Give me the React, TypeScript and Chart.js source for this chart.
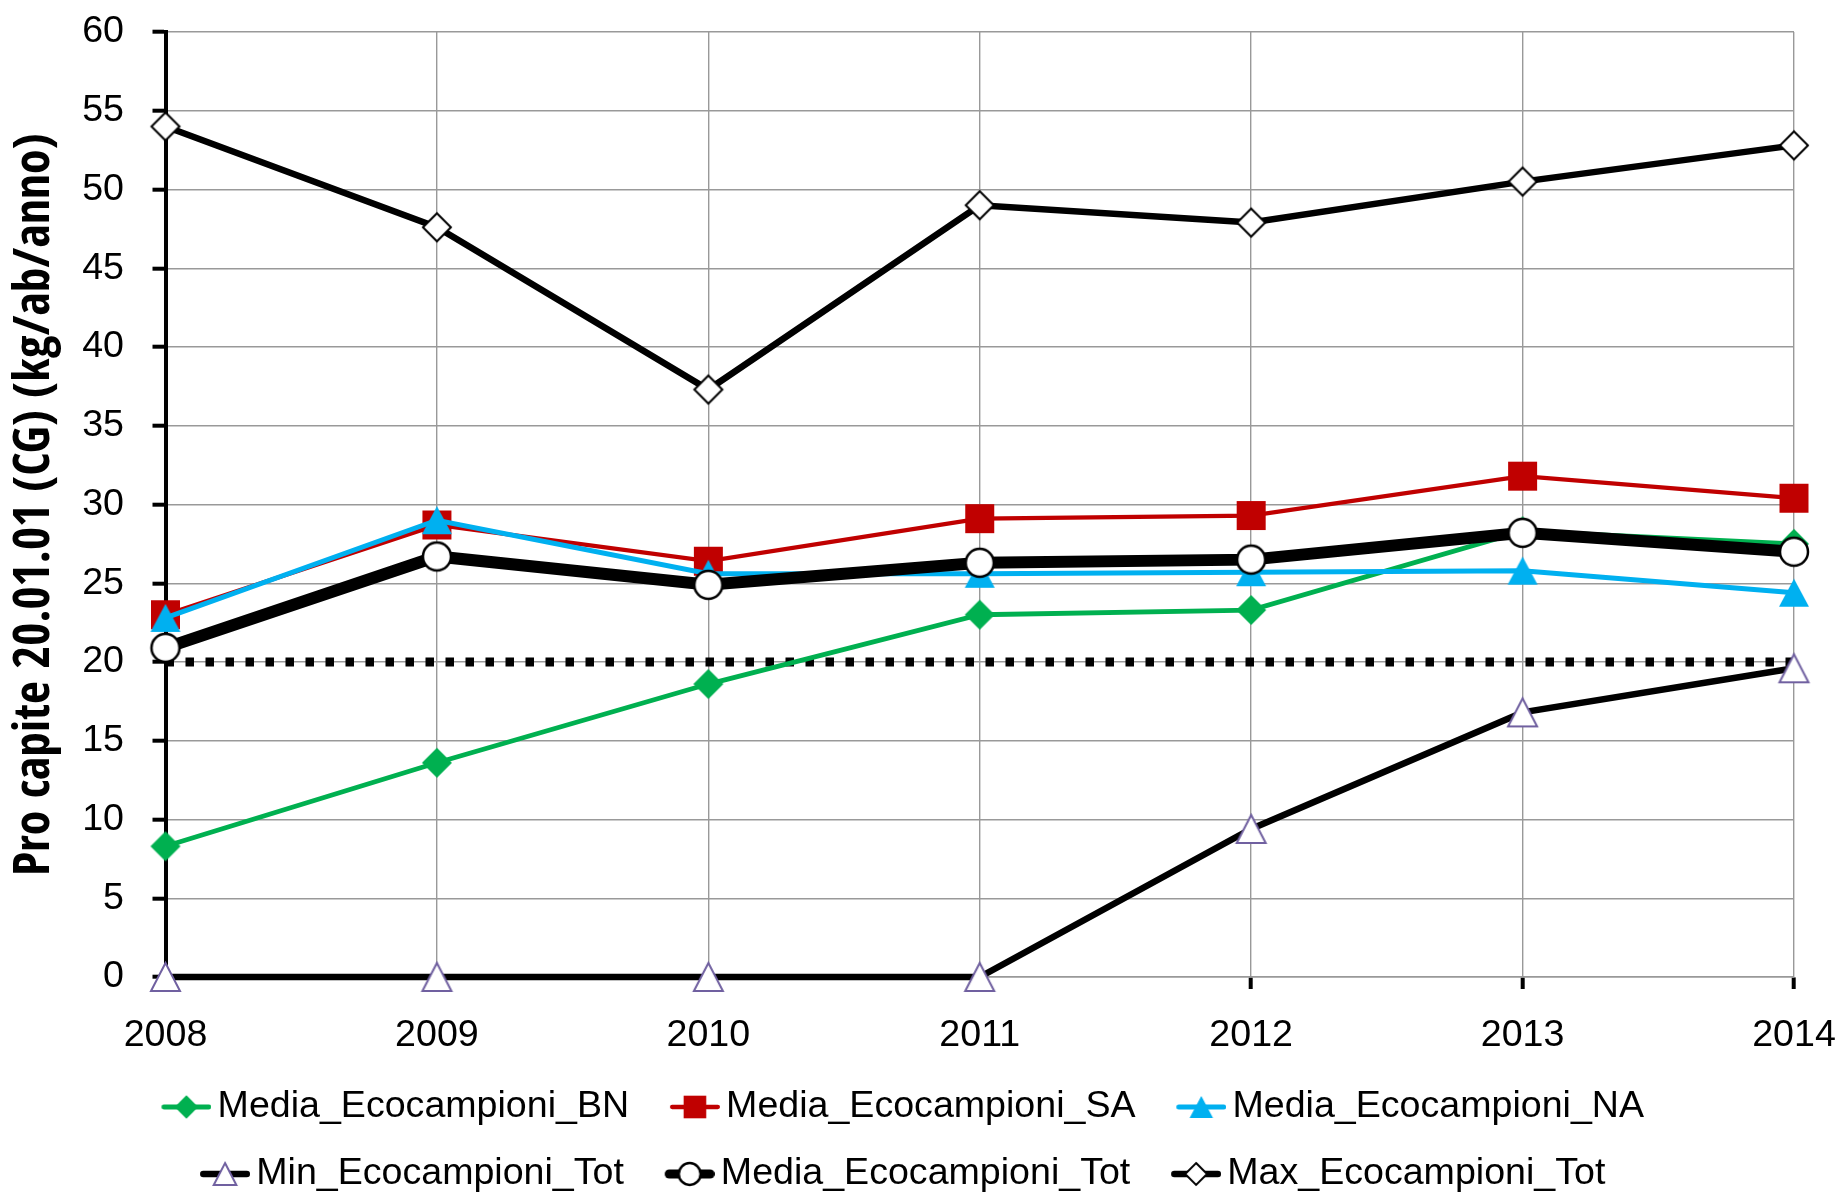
import { useEffect, useRef } from 'react';
import { Chart, registerables } from 'chart.js';

Chart.register(...registerables);

// ---- data ----
const years = ['2008', '2009', '2010', '2011', '2012', '2013', '2014'];
const mediaBN = [8.3, 13.6, 18.6, 23.0, 23.3, 28.3, 27.5];
const mediaSA = [23.0, 28.7, 26.4, 29.1, 29.3, 31.8, 30.4];
const mediaNA = [22.8, 29.0, 25.6, 25.6, 25.7, 25.8, 24.4];
const minTot = [0, 0, 0, 0, 9.4, 16.8, 19.6];
const mediaTot = [20.9, 26.7, 24.9, 26.3, 26.5, 28.2, 27.0];
const maxTot = [54.0, 47.6, 37.3, 49.0, 47.9, 50.5, 52.8];
const soglia = [20, 20, 20, 20, 20, 20, 20];
const yMin = 0;
const yMax = 60;
const yStep = 5;
const yTitle = 'Pro capite 20.01.01 (CG) (kg/ab/anno)';

const GRID = '#999999';

// ---- font selection: the reference uses a narrow sans face ----
interface FontChoice { family: string; stretch: string }
interface FontPick { reg: FontChoice; bold: FontChoice; size: number; titleSize: number }

function pickFont(): FontPick {
  const ctx = document.createElement('canvas').getContext('2d')!;
  const sample = 'Media_Ecocampioni_BN';
  const measure = (f: string, text = sample) => {
    ctx.font = '10px serif';
    ctx.font = f;
    if (ctx.font === '10px serif') return -1;
    return ctx.measureText(text).width;
  };
  const mono = measure('46px monospace');
  const cands = [
    { stretch: '', family: '"Liberation Sans Narrow"', base: '"Liberation Sans"', reg: true },
    { stretch: '', family: '"Arial Narrow"', base: '"Liberation Sans"', reg: true },
    { stretch: '', family: '"Roboto Condensed"', base: 'Roboto', reg: true },
    { stretch: '', family: '"Noto Sans Condensed"', base: '"Noto Sans"', reg: true },
    { stretch: 'condensed', family: '"Noto Sans"', base: '"Noto Sans"', reg: true },
    { stretch: 'condensed', family: 'Roboto', base: 'Roboto', reg: true },
    { stretch: '', family: '"Open Sans Condensed"', base: '"Open Sans"', reg: false },
    { stretch: 'condensed', family: '"Open Sans"', base: '"Open Sans"', reg: false },
  ];
  const fallback = { stretch: '', family: '"Liberation Sans"' };
  let reg: FontChoice | null = null;
  let bold: FontChoice | null = null;
  for (const c of cands) {
    const pre = c.stretch ? c.stretch + ' ' : '';
    const wn = measure(`normal ${pre}46px ${c.family}, monospace`);
    const wb = measure(`bold ${pre}46px ${c.family}, monospace`);
    const baseN = measure(`normal 46px ${c.base}, monospace`);
    const baseB = measure(`bold 46px ${c.base}, monospace`);
    if (wn <= 0 || wb <= 0 || baseN <= 0 || baseB <= 0) continue;
    if (Math.abs(wn - mono) < 0.5 && Math.abs(wb - mono) < 0.5) continue;
    const narrowB = wb < 0.88 * baseB && wb > 0.5 * baseB;
    const narrowN = wn < 0.88 * baseN && wn > 0.5 * baseN;
    const distinct = wb > wn * 1.03;
    if (!bold && narrowB) bold = { stretch: c.stretch, family: c.family };
    if (!reg && c.reg && narrowN && distinct) reg = { stretch: c.stretch, family: c.family };
  }
  const R = reg || fallback;
  const B = bold || fallback;
  const preR = R.stretch ? R.stretch + ' ' : '';
  const preB = B.stretch ? B.stretch + ' ' : '';
  const wL = measure(`normal ${preR}46px ${R.family}`);
  const size = wL > 0 ? Math.round((46 * 412 / wL) * 10) / 10 : 37.6;
  const wT = measure(`bold ${preB}51px ${B.family}`, yTitle);
  const titleSize = wT > 0 ? Math.round((51 * 742 / wT) * 10) / 10 : 42;
  return { reg: R, bold: B, size, titleSize };
}

type Shape = 'diamond' | 'square' | 'triangle' | 'circle';

function drawShape(
  ctx: CanvasRenderingContext2D, shape: Shape, cx: number, cy: number,
  w: number, h: number, fill: string, stroke: string, lw: number,
) {
  ctx.beginPath();
  if (shape === 'diamond') {
    ctx.moveTo(cx, cy - h / 2);
    ctx.lineTo(cx + w / 2, cy);
    ctx.lineTo(cx, cy + h / 2);
    ctx.lineTo(cx - w / 2, cy);
    ctx.closePath();
  } else if (shape === 'square') {
    ctx.rect(cx - w / 2, cy - h / 2, w, h);
  } else if (shape === 'triangle') {
    ctx.moveTo(cx, cy - h / 2);
    ctx.lineTo(cx + w / 2, cy + h / 2);
    ctx.lineTo(cx - w / 2, cy + h / 2);
    ctx.closePath();
  } else {
    ctx.ellipse(cx, cy, w / 2, h / 2, 0, 0, Math.PI * 2);
  }
  ctx.fillStyle = fill;
  ctx.fill();
  if (lw > 0) {
    ctx.strokeStyle = stroke;
    ctx.lineWidth = lw;
    ctx.lineJoin = 'miter';
    ctx.stroke();
  }
}

interface MarkerSpec { shape: Shape; w: number; h: number; fill: string; stroke: string; lw: number }

function markerCanvas(m: MarkerSpec) {
  const pad = Math.ceil(m.lw) + 1;
  const c = document.createElement('canvas');
  c.width = Math.ceil(m.w + 2 * pad);
  c.height = Math.ceil(m.h + 2 * pad);
  const ctx = c.getContext('2d')!;
  drawShape(ctx, m.shape, c.width / 2, c.height / 2, m.w, m.h, m.fill, m.stroke, m.lw);
  return c;
}

function legendCanvas(color: string, lineW: number, m: MarkerSpec, W: number, segW: number, H: number) {
  const c = document.createElement('canvas');
  c.width = Math.round(W);
  c.height = H;
  const ctx = c.getContext('2d')!;
  const lw = Math.min(lineW, 9);
  const Wi = c.width;
  ctx.strokeStyle = color;
  ctx.lineWidth = lw;
  ctx.lineCap = 'round';
  ctx.beginPath();
  ctx.moveTo(Wi - segW + lw / 2, H / 2);
  ctx.lineTo(Wi - lw / 2, H / 2);
  ctx.stroke();
  drawShape(ctx, m.shape, Wi - segW / 2, H / 2, m.w * 0.78, m.h * 0.78, m.fill, m.stroke, m.lw);
  return c;
}

export default function App() {
  const ref = useRef<HTMLCanvasElement | null>(null);

  useEffect(() => {
    if (!ref.current) return;
    const F = pickFont();
    const famR = F.reg.family + ', "Liberation Sans", sans-serif';
    const famB = F.bold.family + ', "Liberation Sans", sans-serif';
    const wt = F.reg.stretch ? `normal ${F.reg.stretch}` : 'normal';
    const wtBold = F.bold.stretch ? `bold ${F.bold.stretch}` : 'bold';
    const S = F.size;

    const series = [
      { label: 'Media_Ecocampioni_BN', data: mediaBN, color: '#00B050', width: 4.8,
        m: { shape: 'diamond', w: 30, h: 30, fill: '#00B050', stroke: '#00B050', lw: 0 } as MarkerSpec, order: 6 },
      { label: 'Media_Ecocampioni_SA', data: mediaSA, color: '#C00000', width: 4.3,
        m: { shape: 'square', w: 29, h: 29, fill: '#C00000', stroke: '#C00000', lw: 0 } as MarkerSpec, order: 5 },
      { label: 'Media_Ecocampioni_NA', data: mediaNA, color: '#00B0F0', width: 5,
        m: { shape: 'triangle', w: 30, h: 28, fill: '#00B0F0', stroke: '#00B0F0', lw: 0 } as MarkerSpec, order: 4 },
      { label: 'Min_Ecocampioni_Tot', data: minTot, color: '#000000', width: 6.5,
        m: { shape: 'triangle', w: 29, h: 28, fill: '#FFFFFF', stroke: '#7060A0', lw: 2 } as MarkerSpec, order: 3 },
      { label: 'Media_Ecocampioni_Tot', data: mediaTot, color: '#000000', width: 12,
        m: { shape: 'circle', w: 28, h: 28, fill: '#FFFFFF', stroke: '#000000', lw: 2.5 } as MarkerSpec, order: 2 },
      { label: 'Max_Ecocampioni_Tot', data: maxTot, color: '#000000', width: 6.5,
        m: { shape: 'diamond', w: 28, h: 28, fill: '#FFFFFF', stroke: '#000000', lw: 2 } as MarkerSpec, order: 1 },
    ];

    // legend geometry (row pitch 67, column pitch 509 in the reference)
    const legPad = 67 - S;
    const BOX = 30 + S / 2;
    const IMGW = BOX + S - 12;
    const legendImgs = series.map((s) => legendCanvas(s.color, s.width, s.m, IMGW, 50, 36));
    const legTop = 1040 + S / 2;
    const xAxisH = legTop - 977;
    const padBottom = 1199 - (legTop + 2 * 67 + 10);
    const xTickPad = 4;
    const xLine = (47 - xTickPad) * 2; // label middle sits at axis + tick + pad + lineHeight/2

    const datasets: any[] = series.map((s) => ({
      label: s.label,
      data: s.data,
      borderColor: s.color,
      backgroundColor: s.color,
      borderWidth: s.width,
      pointStyle: markerCanvas(s.m),
      pointRadius: 14,
      pointHoverRadius: 14,
      tension: 0,
      clip: false,
      order: s.order,
    }));
    datasets.push({
      label: 'Soglia_20',
      data: soglia,
      borderColor: '#000000',
      backgroundColor: '#000000',
      borderWidth: 9,
      borderDash: [8.5, 11.5],
      borderCapStyle: 'butt',
      pointRadius: 0,
      tension: 0,
      clip: false,
      order: 7,
    });

    const chart = new Chart(ref.current, {
      type: 'line',
      data: { labels: years, datasets },
      options: {
        responsive: false,
        animation: false,
        devicePixelRatio: 1,
        layout: { padding: { top: 32, right: 47, bottom: padBottom, left: 0 } },
        plugins: {
          tooltip: { enabled: false },
          title: { display: false },
          legend: {
            position: 'bottom',
            align: 'center',
            labels: {
              usePointStyle: true,
              pointStyleWidth: BOX,
              padding: legPad,
              color: '#000',
              font: { family: famR, size: S, weight: wt },
              generateLabels: (ch: any) =>
                ch.data.datasets.slice(0, 6).map((ds: any, i: number) => ({
                  text: ds.label,
                  pointStyle: legendImgs[i],
                  datasetIndex: i,
                  hidden: false,
                  lineWidth: 0,
                  fillStyle: ds.borderColor,
                  strokeStyle: ds.borderColor,
                  fontColor: '#000',
                })),
            },
          },
        },
        scales: {
          x: {
            type: 'category',
            offset: false,
            grid: {
              offset: false,
              color: (c: any) => (c.index === 0 ? 'rgba(0,0,0,0)' : GRID),
              lineWidth: 1.4,
              tickColor: '#000',
              tickWidth: 4,
              tickLength: 12,
            },
            border: { color: GRID, width: 1.4 },
            ticks: {
              color: '#000',
              font: { family: famR, size: S, weight: wt, lineHeight: xLine / S },
              padding: xTickPad,
              maxRotation: 0,
              autoSkip: false,
            },
            afterFit: (s: any) => { s.height = xAxisH; },
          },
          y: {
            min: yMin,
            max: yMax,
            grid: {
              color: GRID,
              lineWidth: 1.4,
              tickColor: '#000',
              tickWidth: 4,
              tickLength: 13,
            },
            border: { color: '#000', width: 4 },
            ticks: {
              stepSize: yStep,
              color: '#000',
              font: { family: famR, size: S, weight: wt, lineHeight: 0.1 },
              padding: 28.5,
            },
            title: {
              display: true,
              text: yTitle,
              color: '#000',
              font: { family: famB, size: F.titleSize, weight: wtBold, lineHeight: 1 },
              padding: { top: 36 - F.titleSize / 2, bottom: 0 },
            },
            afterFit: (s: any) => { s.width = 165.5; },
          },
        },
      } as any,
    });

    return () => chart.destroy();
  }, []);

  return (
    <div style={{ position: 'absolute', left: 0, top: 0, width: 1841, height: 1199, background: '#fff' }}>
      <canvas ref={ref} width={1841} height={1199} style={{ display: 'block' }} />
    </div>
  );
}
